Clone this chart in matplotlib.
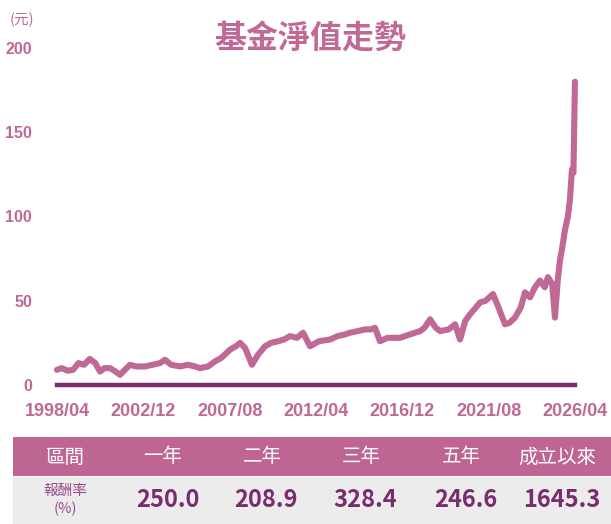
import matplotlib
matplotlib.use("Agg")
import matplotlib.pyplot as plt
from matplotlib.patches import Rectangle

# Net asset value (fractional year, NAV in 元)
years = [1998.33, 1998.6, 1998.9, 1999.2, 1999.5, 1999.8, 2000.1, 2000.4, 2000.66,
         2000.9, 2001.2, 2001.5, 2001.74, 2002.0, 2002.28, 2002.6, 2003.09, 2003.5,
         2003.9, 2004.17, 2004.5, 2004.98, 2005.4, 2005.8, 2006.06, 2006.5, 2006.87,
         2007.2, 2007.5, 2007.69, 2008.0, 2008.23, 2008.5, 2008.87, 2009.2, 2009.58,
         2009.9, 2010.3, 2010.6, 2010.93, 2011.3, 2011.63, 2012.01, 2012.5, 2013.09,
         2013.5, 2013.9, 2014.17, 2014.6, 2014.98, 2015.3, 2015.52, 2015.79, 2016.2,
         2016.87, 2017.4, 2017.96, 2018.2, 2018.5, 2018.8, 2019.04, 2019.5, 2019.85,
         2020.12, 2020.4, 2020.66, 2020.9, 2021.2, 2021.5, 2021.9, 2022.2, 2022.55,
         2022.8, 2023.09, 2023.4, 2023.63, 2023.9, 2024.17, 2024.44, 2024.7, 2024.87,
         2025.1, 2025.25, 2025.4, 2025.52, 2025.65, 2025.79, 2025.95, 2026.06, 2026.17,
         2026.25, 2026.33]
nav = [9, 10, 8.5, 9, 13, 12, 15.5, 13, 8,
       10, 10, 8, 6, 9, 12, 11, 11, 12,
       13, 15, 12, 11, 12, 11, 10, 11, 14,
       16, 19, 21, 23, 25, 22, 12, 18, 23,
       25, 26, 27, 29, 28, 31, 23, 26, 27,
       29, 30, 31, 32, 33, 33, 34, 26, 28,
       28, 30, 32, 34, 39, 34, 32, 33, 36,
       27, 38, 42, 45, 49, 50, 54, 46, 36,
       37, 40, 46, 55, 52, 58, 62, 58, 64,
       60, 40, 62, 74, 82, 92, 100, 110, 128,
       126, 180]

x_labels = ["1998/04", "2002/12", "2007/08", "2012/04", "2016/12", "2021/08", "2026/04"]
x_ticks = [1998 + 4/12 + i * 56/12 for i in range(7)]
y_ticks = [0, 50, 100, 150, 200]

headers = ["區間", "一年", "二年", "三年", "五年", "成立以來"]
returns = ["250.0", "208.9", "328.4", "246.6", "1645.3"]

pink = "#C06896"
dark = "#7A2C6C"
cjk = ["Noto Sans CJK TC", "DejaVu Sans"]

fig = plt.figure(figsize=(6.11, 5.24), dpi=100)
ax = fig.add_axes([57/611, 1 - 385/524, 518/611, 337/524])

ax.plot(years, nav, color=pink, linewidth=4.4, solid_joinstyle="round",
        solid_capstyle="round", clip_on=False, zorder=3)
ax.plot([x_ticks[0], x_ticks[-1]], [0, 0], color=dark, linewidth=3.2,
        clip_on=False, zorder=2)

ax.set_xlim(x_ticks[0], x_ticks[-1])
ax.set_ylim(0, 200)
ax.set_xticks(x_ticks)
ax.set_xticklabels(x_labels)
ax.set_yticks(y_ticks)
for s in ax.spines.values():
    s.set_visible(False)
ax.tick_params(length=0)
ax.tick_params(axis="y", pad=18)
ax.tick_params(axis="x", pad=13)
for lab in ax.get_yticklabels():
    lab.set_fontfamily("Liberation Sans")
    lab.set_fontweight("bold")
    lab.set_fontsize(11.5)
    lab.set_color(pink)
for lab in ax.get_xticklabels():
    lab.set_fontfamily("Liberation Sans")
    lab.set_fontweight("bold")
    lab.set_fontsize(13)
    lab.set_color(pink)

fig.text(22/611, 1 - 20/524, "(元)", ha="center", va="center", fontsize=10.5,
         color=pink, family=cjk)
fig.text(310/611, 1 - 40/524, "基金淨值走勢", ha="center", va="center", fontsize=23,
         color=pink, family=cjk, fontweight="bold")

# Returns table under the chart
tab = fig.add_axes([13/611, 0, 598/611, 87/524])
tab.set_xlim(13, 611)
tab.set_ylim(524, 437)
tab.axis("off")
tab.add_patch(Rectangle((13, 437), 598, 39, facecolor="#BE6593", edgecolor="none"))
tab.add_patch(Rectangle((13, 477), 598, 47, facecolor="#ECECEC", edgecolor="none"))

head_x = [65, 163, 262, 361, 461, 557]
val_x = [168, 266, 365, 466, 562]
for hx, h in zip(head_x, headers):
    tab.text(hx, 457, h, ha="center", va="center", fontsize=14, color="white",
             family=cjk)
tab.text(65, 500, "報酬率\n(%)", ha="center", va="center", fontsize=10.5,
         color="#9A4A88", family=cjk, linespacing=1.3)
for vx, v in zip(val_x, returns):
    tab.text(vx, 500, v, ha="center", va="center", fontsize=17, color=dark,
             family=cjk, fontweight="bold")

fig.savefig("out.png", dpi=100)
